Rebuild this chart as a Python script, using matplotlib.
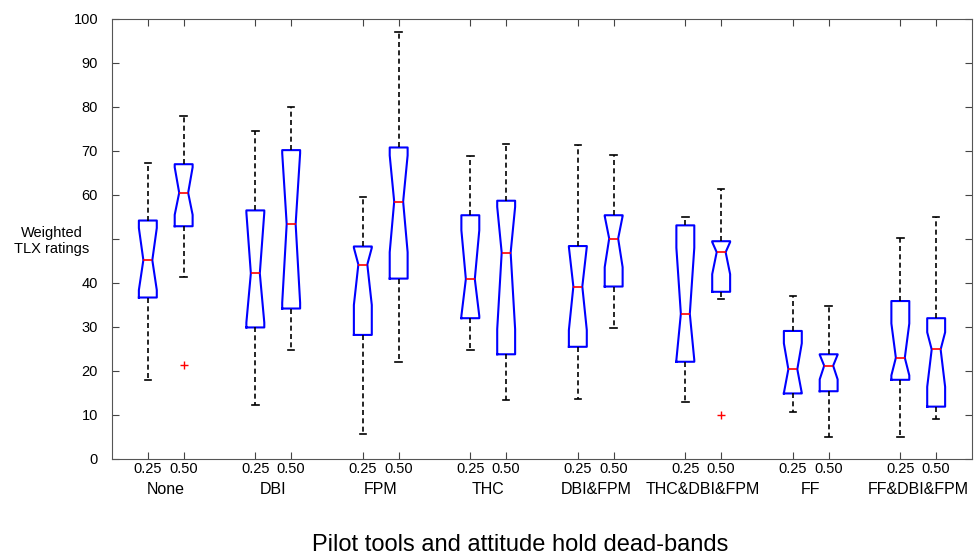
import numpy as np
import matplotlib.pyplot as plt

plt.rcParams['font.family'] = ['Liberation Sans', 'DejaVu Sans']

# groups (pilot tools) and dead-band settings
groups = ['None', 'DBI', 'FPM', 'THC', 'DBI&FPM', 'THC&DBI&FPM', 'FF', 'FF&DBI&FPM']
bands = ['0.25', '0.50']

# box statistics, order: group x band
whislo = [18.0, 41.4, 12.3, 24.8, 5.7, 22.0, 24.7, 13.4,
          13.6, 29.7, 12.9, 36.4, 10.6, 5.0, 5.0, 9.2]
q1 = [36.7, 52.9, 29.9, 34.2, 28.2, 41.0, 32.0, 23.8,
      25.5, 39.2, 22.1, 38.0, 14.9, 15.4, 18.0, 11.9]
med = [45.2, 60.5, 42.2, 53.4, 44.2, 58.5, 40.9, 46.9,
       39.2, 50.1, 33.0, 47.0, 20.4, 21.2, 23.0, 24.9]
q3 = [54.2, 67.0, 56.5, 70.2, 48.3, 70.8, 55.4, 58.7,
      48.4, 55.4, 53.1, 49.5, 29.1, 23.8, 35.9, 32.0]
whishi = [67.3, 78.0, 74.6, 80.0, 59.6, 97.0, 68.8, 71.6,
          71.3, 69.2, 55.0, 61.3, 37.0, 34.7, 50.3, 55.1]
cilo = [38.4, 55.5, 31.0, 35.5, 35.0, 47.0, 32.5, 29.5,
        29.3, 43.6, 22.5, 42.0, 15.0, 18.1, 19.0, 16.4]
cihi = [52.5, 66.3, 56.0, 69.5, 48.0, 69.0, 52.0, 57.3,
        48.2, 55.2, 48.0, 49.3, 26.3, 23.7, 30.8, 28.8]
fliers = [[], [21.4], [], [], [], [], [], [],
          [], [], [], [10.0], [], [], [], []]

yticks = np.arange(0, 101, 10)
# the 50 label sits under the y axis title in the original
ytick_labels = ['' if t == 50 else str(t) for t in yticks]

# positions: pairs 1,2 / 4,5 / ...
pos = []
for g in range(len(groups)):
    pos += [3 * g + 1, 3 * g + 2]

stats = []
for i in range(len(pos)):
    stats.append(dict(med=med[i], q1=q1[i], q3=q3[i], whislo=whislo[i],
                      whishi=whishi[i], cilo=cilo[i], cihi=cihi[i],
                      fliers=np.array(fliers[i])))

fig = plt.figure(figsize=(9.8, 5.59), dpi=100)
ax = fig.add_axes([112 / 980, 1 - 459 / 559, 860 / 980, 440 / 559])

ax.bxp(stats, positions=pos, widths=0.5, capwidths=0.18, shownotches=True,
       boxprops=dict(color='#0000ff', linewidth=1.5),
       whiskerprops=dict(color='black', linewidth=1.2, linestyle=(0, (3, 2))),
       capprops=dict(color='black', linewidth=1.2),
       medianprops=dict(color='#ff0000', linewidth=1.2),
       flierprops=dict(marker='+', markeredgecolor='#ff0000', markersize=6,
                       markeredgewidth=1.0))

ax.set_xlim(0, 24)
ax.set_ylim(0, 100)
ax.set_yticks(yticks)
ax.set_yticklabels(ytick_labels)
ax.set_xticks(pos)
ax.set_xticklabels(bands * len(groups))
ax.tick_params(direction='in', top=True, right=True, length=5, labelsize=10.5,
               color='#444444')
ax.tick_params(axis='x', pad=2)
ax.tick_params(axis='y', pad=10)
for s in ax.spines.values():
    s.set_color('#555555')

# group names under each pair
for g, name in enumerate(groups):
    ax.text(3 * g + 1.5, -0.07, name, transform=ax.get_xaxis_transform(),
            ha='center', va='center', fontsize=11.5)

fig.text(52 / 980, 1 - 241 / 559, 'Weighted\nTLX ratings', ha='center',
         va='center', fontsize=10.5, linespacing=1.2)
fig.text(520 / 980, 1 - 545 / 559, 'Pilot tools and attitude hold dead-bands',
         ha='center', va='center', fontsize=17)

fig.savefig('out.png', dpi=100)
